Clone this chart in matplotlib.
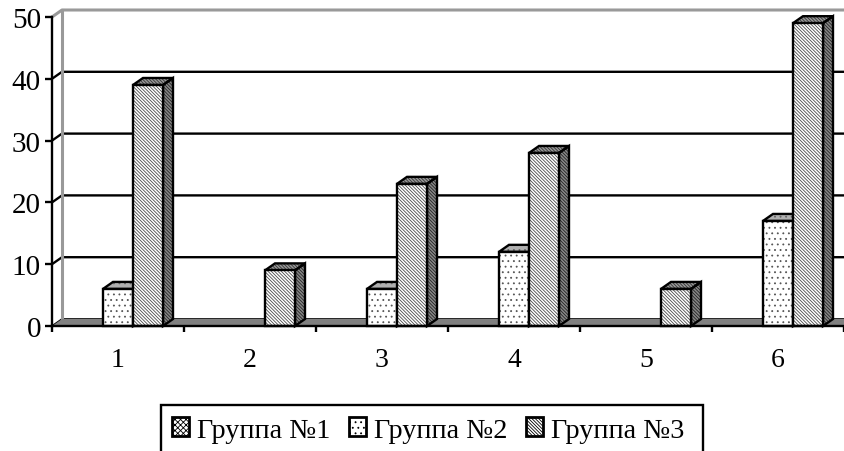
import matplotlib
matplotlib.use("Agg")
import matplotlib.pyplot as plt
from matplotlib.patches import Polygon, Patch, Rectangle

W, H = 845, 452
categories = ["1", "2", "3", "4", "5", "6"]
group_names = ["Группа №1", "Группа №2", "Группа №3"]
group1 = [0, 0, 0, 0, 0, 0]
group2 = [6, 0, 6, 12, 0, 17]
group3 = [39, 9, 23, 28, 6, 49]
y_ticks = [0, 10, 20, 30, 40, 50]

plt.rcParams["font.family"] = ["Liberation Serif", "DejaVu Serif"]
plt.rcParams["hatch.linewidth"] = 0.6

fig = plt.figure(figsize=(W / 100, H / 100), dpi=100)
ax = fig.add_axes([52 / W, 1 - 327 / H, 792 / W, 309 / H])
ax.set_xlim(0, 6)
ax.set_ylim(0, 50)
ax.patch.set_visible(False)

dx = 10 / 132
dy = 7 / 6.18
bar_w = 30 / 132
first = 21 / 132
LW = 1.7
DIAG = "\\" * 10


def poly(points, face, hatch=None, hatch_color="black", z=3, edge=True):
    ax.add_patch(Polygon(points, closed=True, facecolor=face, edgecolor=hatch_color if hatch else face,
                         hatch=hatch, lw=0, zorder=z, clip_on=False))
    if edge:
        ax.add_patch(Polygon(points, closed=True, fill=False, edgecolor="black", lw=LW, zorder=z + 0.01,
                             clip_on=False, joinstyle="miter"))


# back wall and gridlines
for v in y_ticks:
    colour = "#999999" if v == 50 else "black"
    ax.plot([0, dx, 6], [v, v + dy, v + dy], color=colour, lw=2.2 if v == 50 else (LW if v else 1.2),
            zorder=1, clip_on=False, solid_capstyle="butt")
ax.plot([dx, dx], [dy, 50 + dy], color="#999999", lw=2.2, zorder=1.5, clip_on=False)
# floor
poly([(0, 0), (dx, dy), (6, dy), (6, 0)], "#808080", edge=False, z=2)

styles = [("xxxxxx", "white", "#555555", "white", "#555555"),
          ("...", "white", "#555555", "#b0b0b0", "#666666"),
          (DIAG, "white", "#4a4a4a", "#999999", "#333333")]

for g, vals in enumerate([group1, group2, group3]):
    h, front, fc, side, sc = styles[g]
    for c, v in enumerate(vals):
        if v <= 0:
            continue
        x0 = c + first + g * bar_w
        x1 = x0 + bar_w
        z = 3 + g + c * 3
        poly([(x1, 0), (x1 + dx, dy), (x1 + dx, v + dy), (x1, v)], "#888888", DIAG, "#222222", z=z)
        poly([(x0, v), (x0 + dx, v + dy), (x1 + dx, v + dy), (x1, v)], side, h, sc, z=z)
        poly([(x0, 0), (x1, 0), (x1, v), (x0, v)], front, h, fc, z=z + 0.1)

ax.set_xticks(range(7))
ax.set_xticklabels([])
for c, name in enumerate(categories):
    ax.annotate(name, (c + 66 / 132, 0), xytext=(0, -40), textcoords="offset pixels",
                ha="center", va="baseline", fontsize=20)
ax.set_yticks(y_ticks)
ax.set_yticklabels([str(v) for v in y_ticks], fontsize=21)
ax.tick_params(axis="y", length=5, width=LW, pad=3)
ax.tick_params(axis="x", length=4, width=LW)
ax.spines["top"].set_visible(False)
ax.spines["right"].set_visible(False)
for s in ("left", "bottom"):
    ax.spines[s].set_linewidth(LW)
    ax.spines[s].set_zorder(100)

# legend box runs past the bottom edge of the picture, as in the reference
fig.add_artist(Rectangle((161 / W, -10 / H), 542 / W, (H - 406 + 10) / H, transform=fig.transFigure,
                         facecolor="white", edgecolor="black", lw=1.7, zorder=5))
handles = [Patch(facecolor="white", edgecolor="black", hatch="xxxxxx", lw=2, label=group_names[0]),
           Patch(facecolor="white", edgecolor="black", hatch="...", lw=2, label=group_names[1]),
           Patch(facecolor="white", edgecolor="black", hatch=DIAG, lw=2, label=group_names[2])]
leg = fig.legend(handles=handles, ncol=3, loc="center left",
                 bbox_to_anchor=(172 / W, 1 - 431 / H), bbox_transform=fig.transFigure,
                 fontsize=20.3, frameon=False,
                 handlelength=0.62, handleheight=0.62, handletextpad=0.28, columnspacing=0.64,
                 borderpad=0, borderaxespad=0)
leg.set_zorder(6)

fig.savefig("out.png", dpi=100)
